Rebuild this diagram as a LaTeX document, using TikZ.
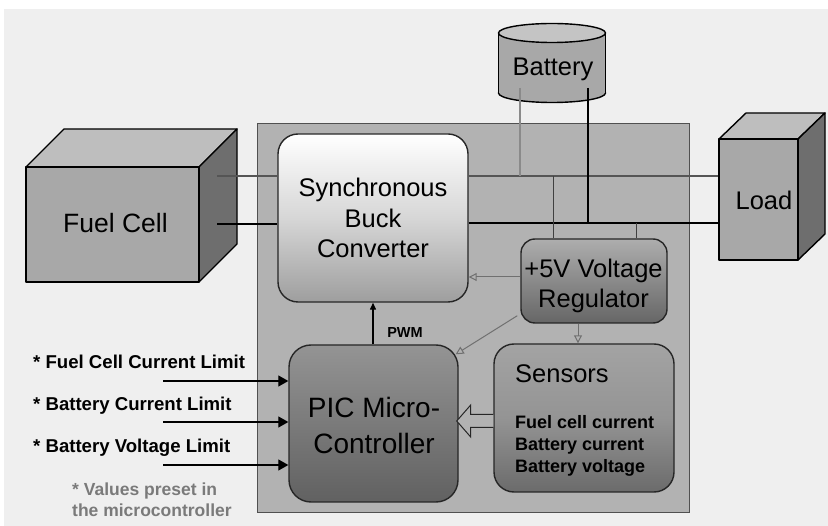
\documentclass[tikz,border=0pt]{standalone}
\usepackage{fontspec}
\setmainfont{Liberation Sans}
\usetikzlibrary{arrows.meta,calc}
\definecolor{bgc}{HTML}{EFEFEF}
\definecolor{panelc}{HTML}{B2B2B2}
\definecolor{panelline}{HTML}{505050}
\definecolor{frontc}{HTML}{A8A8A8}
\definecolor{topc}{HTML}{BEBEBE}
\definecolor{sidec}{HTML}{6E6E6E}
\definecolor{battop}{HTML}{C4C4C4}
\definecolor{thinc}{HTML}{555555}
\definecolor{batthinc}{HTML}{8A8A8A}
\definecolor{tapc}{HTML}{404040}
\definecolor{garc}{HTML}{707070}
\definecolor{notec}{HTML}{7A7A7A}
\begin{document}
\begin{tikzpicture}[x=1pt,y=-1pt,
  cubeline/.style={draw=black,line width=1.4pt,line join=round},
  box/.style={draw=black!85,line width=1.4pt,inner sep=0pt,align=center},
  big/.style={font=\fontsize{25.5}{30.5}\selectfont,align=center,inner sep=0pt},
  pictext/.style={font=\fontsize{28}{36}\selectfont,align=center,inner sep=0pt},
  small/.style={font=\fontsize{18}{22}\selectfont\bfseries,inner sep=0pt},
  lim/.style={font=\fontsize{18.6}{22}\selectfont\bfseries,inner sep=0pt,anchor=base west},
  thinpw/.style={draw=thinc,line width=1.6pt},
  batthin/.style={draw=batthinc,line width=1.6pt},
  thickpw/.style={draw=black,line width=2.6pt},
  tap/.style={draw=tapc,line width=1pt},
  garrow/.style={draw=garc,line width=1pt,-{Triangle[open,length=8pt,width=8pt]}},
  inarrow/.style={draw=black,line width=1.3pt,-{Triangle[length=10pt,width=11pt]}},
  pwmarrow/.style={draw=black,line width=1.3pt,-{Triangle[length=7pt,width=6pt]}}
]
\useasboundingbox (0,0) rectangle (828,526);
\fill[white] (0,0) rectangle (828,526);
\fill[bgc] (4,9) rectangle (828,526);

% main board
\node[draw=panelline,line width=1pt,fill=panelc,minimum width=432,minimum height=389,inner sep=0pt] (board) at (473,318.5) {};

% fuel cell cube
\draw[cubeline,fill=topc] (26,167) -- (64,129) -- (237,129) -- (199,167) -- cycle;
\draw[cubeline,fill=sidec] (199,167) -- (237,129) -- (237,244) -- (199,282) -- cycle;
\node[cubeline,fill=frontc,minimum width=173,minimum height=115,inner sep=0pt] (fc) at (112.5,224.5) {};
\node[big,font=\fontsize{26.5}{30}\selectfont] (fctxt) at (115.5,223) {Fuel Cell};

% load cube
\draw[cubeline,fill=topc] (719,139) -- (746,113) -- (825,113) -- (798,139) -- cycle;
\draw[cubeline,fill=sidec] (798,139) -- (825,113) -- (825,234) -- (798,260) -- cycle;
\node[cubeline,fill=frontc,minimum width=79,minimum height=121,inner sep=0pt] (load) at (758.5,199.5) {};
\node[big] (loadtxt) at (764,200.5) {Load};

% battery cylinder
\draw[cubeline,fill=frontc] (552,93) ellipse [x radius=53.5,y radius=9.5];
\fill[frontc] (498.5,33) rectangle (605.5,93);
\draw[cubeline] (498.5,33) -- (498.5,93) (605.5,33) -- (605.5,93);
\draw[cubeline,fill=battop] (552,33) ellipse [x radius=53.5,y radius=9.5];
\node[big] (bat) at (553,69) {Battery};

% blocks
\node[box,rounded corners=20pt,minimum width=190,minimum height=168,
      top color=white,bottom color=black!38,middle color=black!16,big] (buck) at (373,218)
      {Synchronous\\Buck\\Converter};
\node[box,rounded corners=14pt,minimum width=146,minimum height=84,
      top color=black!32,bottom color=black!60] (reg) at (594,281) {};
\node[big] (regtxt) at (593.5,286) {+5V Voltage\\Regulator};
\node[box,rounded corners=22pt,minimum width=169,minimum height=157,
      top color=black!42,bottom color=black!62] (pic) at (373.5,423.5) {};
\node[pictext] (pictxt) at (374,425.5) {PIC Micro-\\Controller};
\node[box,rounded corners=20pt,minimum width=180,minimum height=148,
      top color=black!36,bottom color=black!58,middle color=black!42] (sens) at (584,418) {};
\node[big,anchor=base west] (senstitle) at (515,383) {Sensors};
\node[small,anchor=base west] (s1) at (515,429) {Fuel cell current};
\node[small,anchor=base west] (s2) at (515,451) {Battery current};
\node[small,anchor=base west] (s3) at (515,473) {Battery voltage};

% power lines
\coordinate (fcA) at (217,176);
\coordinate (fcB) at (217,224);
\coordinate (bA) at (520,88);
\coordinate (bB) at (588,88);
\coordinate (jA) at (520,176);
\coordinate (jB) at (588,223);
\draw[thinpw] (fcA) -- (fcA -| buck.west);
\draw[thinpw] (buck.east |- fcA) -- (load.west |- fcA);
\draw[batthin] (bA) -- (jA);
\draw[thickpw] (fcB) -- (fcB -| buck.west);
\draw[thickpw] (buck.east |- jB) -- (load.west |- jB);
\draw[thickpw] (bB) -- (jB);
\draw[tap] (553,176) -- (reg.north -| 553,0);
\draw[tap] (636,223) -- (reg.north -| 636,0);

% regulator supply arrows
\draw[garrow] (reg.west |- 0,277) -- (buck.east |- 0,277);
\draw[garrow] ($(reg.south west)+(-3,-8)$) -- ($(pic.north east)+(-3,10)$);
\draw[garrow] (reg.south -| 578,0) -- (sens.north -| 578,0);

% PWM
\draw[pwmarrow] (pic.north -| 373,0) -- (buck.south -| 373,0);
\node[font=\fontsize{14.5}{16}\selectfont\bfseries,inner sep=0pt] (pwm) at (405,333) {PWM};

% sensor bus (hollow arrow)
\coordinate (sa) at (sens.west |- 0,421);
\coordinate (pa) at ($(pic.east |- 0,421)+(-2,0)$);
\draw[draw=black!85,line width=1pt,fill=panelc,line join=miter]
  ($(sa)+(0,-6.5)$) -- ($(pa)+(14,-6.5)$) -- ($(pa)+(14,-16)$) -- (pa)
  -- ($(pa)+(14,16)$) -- ($(pa)+(14,6.5)$) -- ($(sa)+(0,6.5)$);

% preset limits
\node[lim] (l1) at (33,369) {* Fuel Cell Current Limit};
\node[lim] (l2) at (33,411) {* Battery Current Limit};
\node[lim] (l3) at (33,453) {* Battery Voltage Limit};
\coordinate (i1) at (163,381);
\coordinate (i2) at (163,422);
\coordinate (i3) at (163,465);
\draw[inarrow] (i1) -- (i1 -| pic.west);
\draw[inarrow] (i2) -- (i2 -| pic.west);
\draw[inarrow] (i3) -- (i3 -| pic.west);
\node[font=\fontsize{17.5}{21}\selectfont\bfseries,text=notec,align=left,anchor=base west,inner sep=0pt] (note) at (72,517)
  {* Values preset in\\the microcontroller};
\end{tikzpicture}
\end{document}
